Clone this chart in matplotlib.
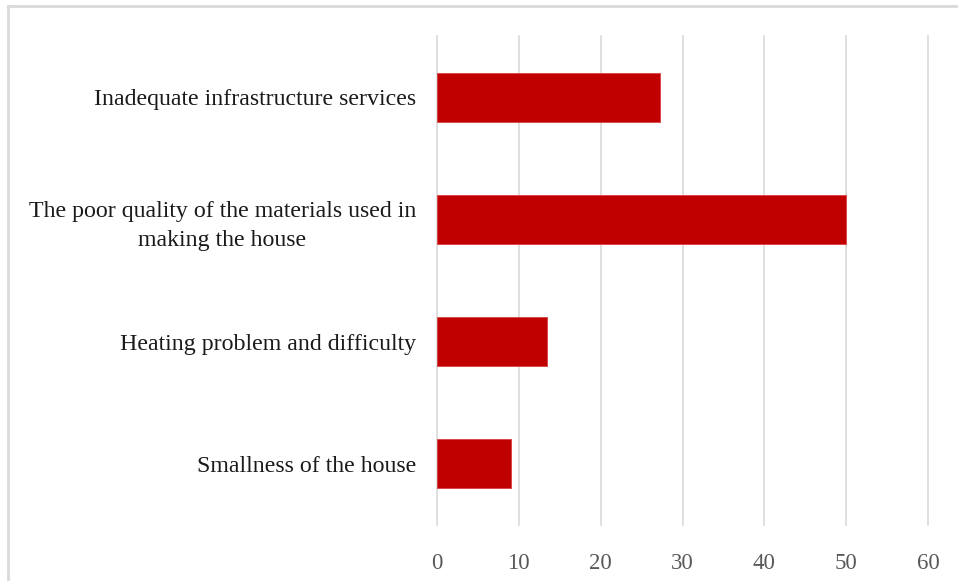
import matplotlib
matplotlib.use("Agg")
import matplotlib.pyplot as plt
from matplotlib.lines import Line2D

categories = [
    "Inadequate infrastructure services",
    "The poor quality of the materials used in\nmaking the house",
    "Heating problem and difficulty",
    "Smallness of the house",
]
values = [27.2, 50, 13.5, 9]
x_ticks = [0, 10, 20, 30, 40, 50, 60]

W, H = 958, 581
fig = plt.figure(figsize=(W / 100, H / 100), dpi=100)
ax = fig.add_axes([437 / W, 1 - 525 / H, (928 - 437) / W, (525 - 36) / H])

font = "Liberation Serif"
positions = list(range(len(categories)))[::-1]
ax.barh(positions, values, height=0.4, color="#C00000", edgecolor="#D94040",
        linewidth=0.6, zorder=3)

ax.set_xlim(0, 60)
ax.set_ylim(-0.5, len(categories) - 0.5)
ax.set_xticks(x_ticks)
ax.set_xticklabels([str(t) for t in x_ticks], fontfamily=font, fontsize=16.5,
                   color="#595959")
ax.set_yticks(positions)
ax.set_yticklabels(categories, fontfamily=font, fontsize=17.2, color="#1a1a1a",
                   multialignment="center", linespacing=1.5)
ax.tick_params(axis="x", length=0, pad=20)
ax.tick_params(axis="y", length=0, pad=15)

ax.grid(axis="x", color="#d9d9d9", linewidth=1.2, zorder=0)
for gl in ax.get_xgridlines():
    gl.set_clip_on(False)
for s in ax.spines.values():
    s.set_visible(False)

# outer frame (top and left edges)
fig.add_artist(Line2D([8 / W, 1], [1 - 6 / H, 1 - 6 / H], color="#d9d9d9",
                      linewidth=2, transform=fig.transFigure))
fig.add_artist(Line2D([8 / W, 8 / W], [0, 1 - 6 / H], color="#d9d9d9",
                      linewidth=2, transform=fig.transFigure))

fig.savefig("out.png", dpi=100)
